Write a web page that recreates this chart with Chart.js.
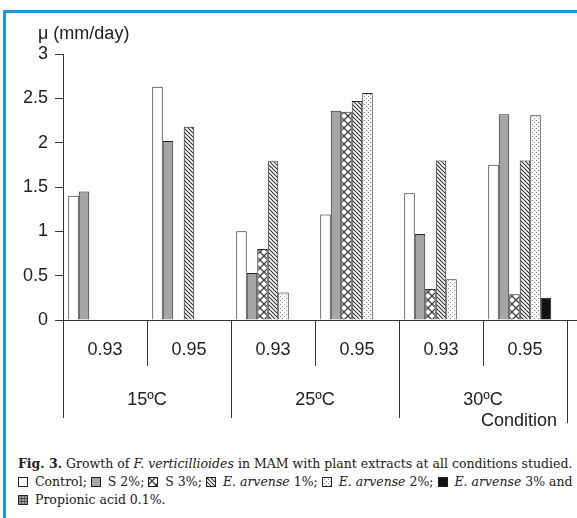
<!DOCTYPE html>
<html>
<head>
<meta charset="utf-8">
<script src="https://cdn.jsdelivr.net/npm/chart.js@4.4.1/dist/chart.umd.min.js"></script>
<style>
    html, body { margin: 0; padding: 0; background: #fdfdfd; }
    #frame { position: absolute; left: 0; top: 0; width: 577px; height: 518px; overflow: hidden; }
    #blueTop { position: absolute; left: 3px; top: 10px; width: 574px; height: 3px; background: #1f95dc; }
    #blueLeft { position: absolute; left: 3px; top: 10px; width: 3px; height: 508px; background: #1f95dc; }
    #chart-container { position: absolute; left: 0; top: 0; width: 577px; height: 440px; }
    #caption { position: absolute; left: 18px; top: 455px; width: 570px; font-family: "DejaVu Serif", serif; font-size: 12.5px; line-height: 18px; color: #222; white-space: nowrap; }
    #caption img { width: 10px; height: 10px; vertical-align: -1px; margin-right: 3px; }
</style>
</head>
<body>
<div id="frame">
    <div id="blueTop"></div>
    <div id="blueLeft"></div>
    <div id="chart-container"><canvas id="myChart"></canvas></div>
    <div id="caption">
        <b>Fig. 3.</b> Growth of <i>F. verticillioides</i> in MAM with plant extracts at all conditions studied.<br>
        <img id="sw0"> Control; <img id="sw1"> S 2%; <img id="sw2"> S 3%; <img id="sw3"> <i>E. arvense</i> 1%; <img id="sw4"> <i>E. arvense</i> 2%; <img id="sw5"> <i>E. arvense</i> 3% and<br>
        <img id="sw6"> Propionic acid 0.1%.
    </div>
</div>
<script>
// categories (water activity inside each temperature)
var waterActivity = ['0.93', '0.95', '0.93', '0.95', '0.93', '0.95'];
var temperatures = ['15ºC', '25ºC', '30ºC'];
var yTicks = [0, 0.5, 1, 1.5, 2, 2.5, 3];

// growth rate mu (mm/day) for each treatment
var control = [1.40, 2.63, 1.00, 1.19, 1.43, 1.75];
var s2 = [1.45, 2.02, 0.53, 2.36, 0.97, 2.32];
var s3 = [0, 0, 0.80, 2.35, 0.35, 0.29];
var arvense1 = [0, 2.18, 1.79, 2.47, 1.80, 1.80];
var arvense2 = [0, 0, 0.31, 2.56, 0.46, 2.31];
var arvense3 = [0, 0, 0, 0, 0, 0.25];
var propionic = [0, 0, 0, 0, 0, 0];

var seriesNames = ['Control', 'S 2%', 'S 3%', 'E. arvense 1%', 'E. arvense 2%', 'E. arvense 3%', 'Propionic acid 0.1%'];

// small tiles used as fill patterns
function makeTile(kind) {
    var c = document.createElement('canvas');
    var size = 8;
    if (kind == 'diag') size = 4;
    if (kind == 'dots') size = 4;
    if (kind == 'grid') size = 3;
    c.width = size;
    c.height = size;
    var g = c.getContext('2d');
    g.fillStyle = '#ffffff';
    g.fillRect(0, 0, size, size);
    if (kind == 'xhatch') {
        g.strokeStyle = '#444';
        g.lineWidth = 1.4;
        g.beginPath();
        g.moveTo(0, 0); g.lineTo(size, size);
        g.moveTo(size, 0); g.lineTo(0, size);
        g.stroke();
    } else if (kind == 'diag') {
        g.strokeStyle = '#333';
        g.lineWidth = 1.1;
        g.beginPath();
        g.moveTo(-1, -1); g.lineTo(size + 1, size + 1);
        g.moveTo(-1, size - 1); g.lineTo(1, size + 1);
        g.moveTo(size - 1, -1); g.lineTo(size + 1, 1);
        g.stroke();
    } else if (kind == 'dots') {
        g.fillStyle = '#888';
        g.fillRect(0, 0, 1, 1);
        g.fillRect(2, 2, 1, 1);
    } else if (kind == 'grid') {
        g.fillStyle = '#9a9a9a';
        g.fillRect(0, 0, size, size);
        g.fillStyle = '#555';
        g.fillRect(0, 0, size, 1);
        g.fillRect(0, 0, 1, size);
    }
    return c;
}

function fillFor(kind, ctx) {
    if (kind == 'white') return '#ffffff';
    if (kind == 'gray') return '#a5a5a5';
    if (kind == 'black') return '#111111';
    return ctx.createPattern(makeTile(kind), 'repeat');
}

var fills = ['white', 'gray', 'xhatch', 'diag', 'dots', 'black', 'grid'];
var values = [control, s2, s3, arvense1, arvense2, arvense3, propionic];

var ctx = document.getElementById('myChart').getContext('2d');

var datasets = [];
for (var i = 0; i < values.length; i++) {
    datasets.push({
        label: seriesNames[i],
        data: values[i],
        backgroundColor: fillFor(fills[i], ctx),
        borderColor: '#222',
        borderWidth: 1,
        categoryPercentage: 0.875,
        barPercentage: 1
    });
}

// legend swatches in the caption
for (var j = 0; j < fills.length; j++) {
    var sw = document.createElement('canvas');
    sw.width = 10; sw.height = 10;
    var sg = sw.getContext('2d');
    sg.fillStyle = fillFor(fills[j], sg);
    sg.fillRect(0, 0, 10, 10);
    sg.strokeStyle = '#222';
    sg.lineWidth = 1;
    sg.strokeRect(0.5, 0.5, 9, 9);
    document.getElementById('sw' + j).src = sw.toDataURL();
}

var textFont = '"Liberation Sans", Arial, sans-serif';

// draws the two level category axis and the y title
var axisPlugin = {
    id: 'twoLevelAxis',
    afterDraw: function (chart) {
        var c = chart.ctx;
        var x = chart.scales.x;
        var bottom = chart.chartArea.bottom;
        var step = x.width / waterActivity.length;
        c.save();
        c.strokeStyle = '#333';
        c.lineWidth = 1;
        c.beginPath();
        c.moveTo(x.left, bottom + 0.5);
        c.lineTo(577, bottom + 0.5);
        for (var i = 0; i <= waterActivity.length; i++) {
            var px = Math.round(x.left + i * step) + 0.5;
            var len = (i % 2 == 0) ? 98 : 46;
            if (i == waterActivity.length) len = 103;
            c.moveTo(px, bottom);
            c.lineTo(px, bottom + len);
        }
        c.stroke();

        c.fillStyle = '#222';
        c.font = '18px ' + textFont;
        c.textAlign = 'center';
        c.textBaseline = 'middle';
        for (var k = 0; k < waterActivity.length; k++) {
            c.fillText(waterActivity[k], x.getPixelForValue(k), bottom + 30);
        }
        for (var t = 0; t < temperatures.length; t++) {
            var mid = (x.getPixelForValue(t * 2) + x.getPixelForValue(t * 2 + 1)) / 2;
            c.fillText(temperatures[t], mid, bottom + 80);
        }
        c.textAlign = 'right';
        c.fillText('Condition', 557, bottom + 101);

        c.textAlign = 'left';
        c.fillText('μ (mm/day)', 38, 34);
        c.restore();
    }
};

var myChart = new Chart(ctx, {
    type: 'bar',
    data: {
        labels: waterActivity,
        datasets: datasets
    },
    options: {
        responsive: true,
        maintainAspectRatio: false,
        animation: false,
        layout: { padding: { left: 0, right: 10, top: 54, bottom: 0 } },
        plugins: {
            legend: { display: false },
            tooltip: { enabled: false }
        },
        scales: {
            x: {
                ticks: { display: false },
                grid: { display: false },
                border: { display: false },
                afterFit: function (s) { s.height = 120; }
            },
            y: {
                min: 0,
                max: 3,
                afterBuildTicks: function (s) {
                    s.ticks = yTicks.map(function (v) { return { value: v }; });
                },
                ticks: {
                    color: '#222',
                    font: { size: 18, family: textFont },
                    padding: 7,
                    callback: function (v) { return String(v); }
                },
                grid: {
                    drawOnChartArea: false,
                    drawTicks: true,
                    tickLength: 8,
                    color: '#333'
                },
                border: { display: true, color: '#333', width: 1 },
                afterFit: function (s) { s.width = 63; }
            }
        }
    },
    plugins: [axisPlugin]
});
</script>
</body>
</html>
